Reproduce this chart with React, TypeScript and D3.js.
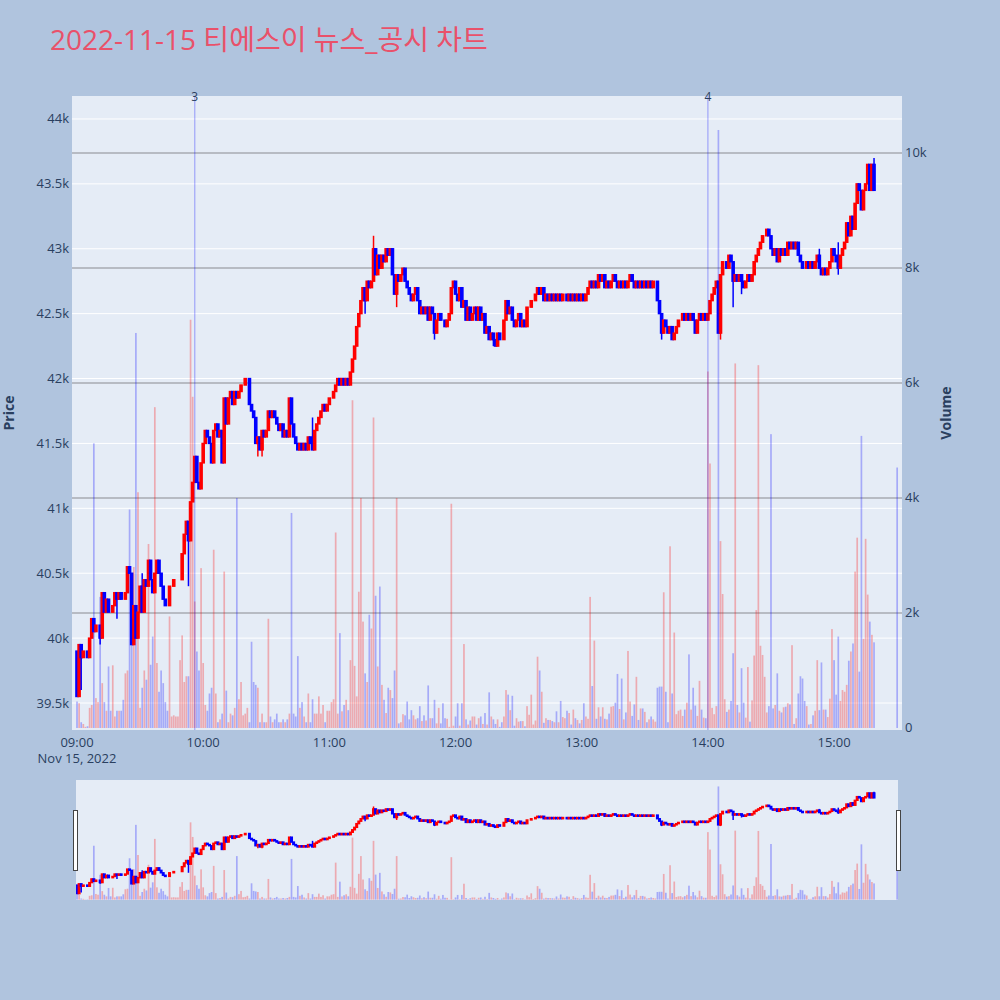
import React from "react";
import * as d3 from "d3";

const TITLE = "2022-11-15 티에스이 뉴스_공시 차트";
const DATE_LABEL = "Nov 15, 2022";
const FIRST_OPEN = 39900;
// 1-minute closes from 09:00 (index = minutes after 09:00)
const CLOSES = [
  39550, 39950, 39850, 39900, 39900, 39850, 40000, 40150, 40050, 40100,
  40100, 40000, 40350, 40200, 40300, 40200, 40200, 40250, 40350, 40300,
  40350, 40300, 40300, 40350, 40550, 40500, 39950, 40250, 40000, 40200,
  40400, 40200, 40450, 40400, 40600, 40450, 40350, 40500, 40600, 40500,
  40400, 40300, 40250, 40250, 40400, 40400, 40450, 40450, 40450, 40450,
  40650, 40800, 40900, 40750, 41050, 41200, 41400, 41200, 41150, 41350,
  41500, 41600, 41550, 41500, 41350, 41600, 41650, 41550, 41600, 41350,
  41850, 41650, 41850, 41900, 41800, 41900, 41850, 41900, 41950, 41950,
  42000, 42000, 41800, 41750, 41700, 41500, 41550, 41450, 41600, 41550,
  41600, 41750, 41700, 41750, 41700, 41650, 41600, 41650, 41550, 41600,
  41550, 41850, 41650, 41550, 41500, 41450, 41500, 41450, 41500, 41450,
  41550, 41500, 41450, 41600, 41650, 41700, 41750, 41800, 41750, 41800,
  41850, 41850, 41900, 41950, 42000, 41950, 42000, 41950, 42000, 41950,
  42050, 42150, 42250, 42400, 42500, 42600, 42700, 42600, 42750, 42700,
  42750, 43000, 42800, 42950, 42850, 42950, 42900, 43000, 42950, 43000,
  42800, 42650, 42800, 42750, 42800, 42850, 42750, 42700, 42650, 42600,
  42650, 42700, 42600, 42500, 42550, 42500, 42550, 42450, 42550, 42500,
  42350, 42450, 42500, 42450, 42450, 42400, 42450, 42500, 42700, 42750,
  42650, 42600, 42700, 42550, 42600, 42450, 42550, 42450, 42500, 42550,
  42450, 42550, 42450, 42500, 42350, 42400, 42300, 42350, 42300, 42250,
  42350, 42300, 42300, 42450, 42600, 42500, 42550, 42450, 42400, 42450,
  42500, 42400, 42450, 42400, 42550, 42550, 42600, 42600, 42650, 42700,
  42650, 42700, 42600, 42650, 42600, 42650, 42600, 42650, 42600, 42650,
  42600, 42650, 42650, 42600, 42650, 42600, 42650, 42600, 42650, 42600,
  42650, 42600, 42650, 42700, 42750, 42700, 42750, 42700, 42800, 42750,
  42800, 42700, 42750, 42700, 42750, 42800, 42750, 42700, 42750, 42700,
  42750, 42700, 42750, 42800, 42750, 42700, 42750, 42700, 42750, 42700,
  42750, 42700, 42750, 42700, 42750, 42750, 42600, 42500, 42350, 42450,
  42400, 42350, 42400, 42300, 42350, 42400, 42450, 42450, 42500, 42450,
  42500, 42450, 42500, 42450, 42350, 42450, 42500, 42450, 42500, 42450,
  42500, 42600, 42650, 42700, 42750, 42350, 42800, 42900, 42900, 42850,
  42950, 42900, 42750, 42800, 42750, 42800, 42750, 42700, 42750, 42800,
  42750, 42800, 42900, 42950, 43000, 43050, 43100, 43100, 43150, 43100,
  43000, 42950, 43000, 42900, 43000, 42950, 43000, 42950, 43050, 43000,
  43050, 43000, 43050, 42950, 42900, 42850, 42850, 42900, 42850, 42900,
  42850, 42900, 42950, 42850, 42800, 42850, 42800, 42850, 42900, 43000,
  42950, 42900, 42850, 42950, 43000, 43050, 43200, 43100, 43250, 43150,
  43350, 43500, 43450, 43300, 43450, 43500, 43650, 43450, 43650, 43450,
];
// 1-minute volumes, thousands of shares
const VOLUME_K = [
  0.46, 0.43, 0.10, 0.07, 0.02, 0.03, 0.35, 0.40, 4.95, 0.52,
  0.45, 2.28, 0.78, 0.45, 0.30, 1.07, 0.30, 1.09, 0.20, 0.30,
  0.30, 0.30, 0.49, 0.95, 1.00, 3.80, 1.90, 2.80, 6.87, 4.10,
  0.35, 0.70, 1.00, 0.84, 3.20, 1.10, 1.59, 5.58, 1.13, 0.63,
  1.00, 0.78, 0.45, 0.30, 1.94, 0.20, 0.22, 0.20, 0.20, 1.18,
  1.61, 0.80, 0.90, 0.90, 7.10, 5.76, 2.20, 1.33, 1.00, 2.78,
  1.13, 0.40, 0.30, 0.60, 0.70, 3.10, 0.60, 0.10, 0.15, 0.25,
  2.72, 0.65, 0.10, 0.25, 0.22, 0.35, 4.00, 0.50, 0.80, 0.22,
  0.25, 0.35, 0.10, 1.50, 0.80, 0.75, 0.70, 0.10, 0.25, 0.10,
  0.10, 1.90, 0.20, 0.10, 0.15, 0.25, 0.10, 0.10, 0.15, 0.10,
  0.15, 0.25, 3.74, 0.25, 0.20, 1.25, 0.35, 0.45, 0.20, 0.10,
  0.60, 0.10, 0.50, 0.25, 0.25, 0.55, 0.25, 0.40, 0.10, 0.30,
  0.30, 0.45, 0.50, 3.40, 0.25, 1.65, 0.29, 0.40, 0.49, 0.31,
  1.18, 5.70, 1.08, 0.55, 2.37, 4.00, 1.85, 0.95, 0.80, 1.97,
  1.73, 5.40, 2.30, 1.07, 2.46, 0.75, 0.49, 0.26, 0.70, 0.66,
  0.52, 1.00, 4.00, 0.08, 0.10, 0.24, 0.22, 0.46, 0.15, 0.31,
  0.22, 0.15, 0.17, 0.38, 0.12, 0.22, 0.13, 0.74, 0.17, 0.17,
  0.49, 0.08, 0.35, 0.08, 0.43, 0.17, 0.16, 0.02, 3.90, 0.04,
  0.20, 0.43, 0.04, 0.43, 1.46, 0.15, 0.06, 0.13, 0.20, 0.20,
  0.06, 0.17, 0.20, 0.07, 0.26, 0.06, 0.62, 0.20, 0.15, 0.07,
  0.15, 0.02, 0.10, 0.20, 0.66, 0.58, 0.31, 0.56, 0.04, 0.17,
  0.11, 0.12, 0.12, 0.03, 0.38, 0.23, 0.58, 0.06, 0.13, 1.24,
  1.00, 0.63, 0.09, 0.17, 0.14, 0.14, 0.12, 0.10, 0.29, 0.10,
  0.47, 0.19, 0.17, 0.30, 0.26, 0.06, 0.32, 0.17, 0.14, 0.08,
  0.14, 0.43, 0.20, 0.16, 2.28, 0.73, 1.52, 0.16, 0.36, 0.20,
  0.36, 0.16, 0.15, 0.25, 0.37, 0.38, 0.44, 0.94, 0.33, 0.86,
  0.15, 0.27, 1.34, 0.46, 0.21, 0.41, 0.89, 0.14, 0.34, 0.34,
  0.28, 0.10, 0.15, 0.20, 0.15, 0.11, 0.70, 0.72, 0.72, 2.36,
  0.63, 0.10, 3.16, 0.60, 1.66, 0.24, 0.30, 0.32, 0.21, 0.32,
  0.44, 1.28, 0.32, 0.70, 0.39, 0.21, 0.82, 0.32, 0.18, 0.17,
  6.20, 4.60, 0.35, 0.24, 0.38, 10.40, 3.25, 2.33, 0.50, 0.28,
  0.32, 0.47, 1.30, 6.34, 0.40, 0.27, 1.04, 0.44, 0.18, 1.06,
  0.11, 0.48, 1.26, 2.05, 6.31, 1.43, 1.27, 0.89, 0.27, 0.38,
  5.11, 0.34, 0.40, 0.95, 0.30, 0.27, 0.36, 0.37, 0.43, 0.41,
  1.44, 0.07, 0.17, 0.60, 0.90, 0.86, 0.47, 0.38, 0.06, 0.07,
  0.22, 0.30, 1.18, 0.31, 1.14, 0.32, 0.32, 0.19, 0.51, 1.72,
  1.18, 0.58, 1.59, 0.47, 0.66, 0.63, 0.75, 1.17, 1.33, 1.47,
  2.72, 3.31, 0.98, 5.08, 1.55, 3.29, 2.32, 1.85, 1.62, 1.49,
];
// sparse wicks: [minute, high, low]
const WICKS: [number, number | null, number | null][] = [
  [2, null, 39600], [11, null, 39950], [19, null, 40150], [31, 40500, null],
  [53, null, 40400], [86, null, 41400], [88, null, 41400], [112, 41700, null],
  [137, null, 42500], [141, 43100, null], [152, null, 42550], [170, null, 42300],
  [198, null, 42250], [278, null, 42300], [306, null, 42300], [312, null, 42550],
  [316, null, 42650], [353, 43000, null], [362, 43050, 42800], [379, 43700, null],
];
// closing auction 15:30
const CLOSING_MINUTE = 390;
const CLOSING_PRICE = 43450;
const CLOSING_VOLUME_K = 4.53;
// news / disclosure markers
const EVENT_MINUTES = [56, 300];
const EVENT_LABELS = ["3", "4"];

const PRICE_TICKS = [39500, 40000, 40500, 41000, 41500, 42000, 42500, 43000, 43500, 44000];
const VOLUME_TICKS = [0, 2000, 4000, 6000, 8000, 10000];
const TIME_TICK_MINUTES = [0, 60, 120, 180, 240, 300, 360];
const TIME_TICK_LABELS = ["09:00", "10:00", "11:00", "12:00", "13:00", "14:00", "15:00"];

const UP = "#ff0000";
const DOWN = "#0000ff";
const FONT = "'Open Sans', 'Noto Sans CJK KR', sans-serif";
const TEXT = "#2a3f5f";

type Candle = { m: number; o: number; h: number; l: number; c: number; v: number; dir: number };

function buildCandles(): Candle[] {
  const wick = new Map<number, [number | null, number | null]>();
  WICKS.forEach(([m, h, l]) => wick.set(m, [h, l]));
  let prevDir = -1;
  const out: Candle[] = CLOSES.map((c, i) => {
    const o = i === 0 ? FIRST_OPEN : CLOSES[i - 1];
    const dir = c > o ? 1 : c < o ? -1 : prevDir;
    prevDir = dir;
    const w = wick.get(i);
    const h = Math.max(o, c, w && w[0] != null ? w[0] : -Infinity);
    const l = Math.min(o, c, w && w[1] != null ? w[1] : Infinity);
    return { m: i, o, h, l, c, v: VOLUME_K[i] * 1000, dir };
  });
  out.push({ m: CLOSING_MINUTE, o: CLOSING_PRICE, h: CLOSING_PRICE, l: CLOSING_PRICE, c: CLOSING_PRICE, v: CLOSING_VOLUME_K * 1000, dir: prevDir });
  return out;
}

function Series({ candles, x, y, y2, clip, bw }: { candles: Candle[]; x: any; y: any; y2: any; clip: string; bw: number }) {
  return (
    <g clipPath={`url(#${clip})`}>
      {candles.map((d) => {
        const col = d.dir > 0 ? UP : DOWN;
        const cx = x(d.m);
        const top = y(Math.max(d.o, d.c));
        const bot = y(Math.min(d.o, d.c));
        return (
          <g key={"c" + d.m}>
            <line x1={cx} x2={cx} y1={y(d.h)} y2={y(d.l)} stroke={col} strokeWidth={1.5} />
            <rect x={cx - bw / 2} y={top} width={bw} height={Math.max(0, bot - top)} fill={col} stroke={col} strokeWidth={1.4} />
          </g>
        );
      })}
      {candles.map((d) => {
        const col = d.dir > 0 ? UP : DOWN;
        const cx = x(d.m);
        return (
          <rect key={"v" + d.m} x={cx - 0.85} width={1.7} y={y2(d.v)} height={Math.max(0, y2(0) - y2(d.v))} fill={col} fillOpacity={0.28} />
        );
      })}
    </g>
  );
}

export default function App() {
  const L = 72, R = 902, T = 96, B = 730;
  const x = d3.scaleLinear().domain([-2.38, 392.3]).range([L, R]);
  const y = d3.scaleLinear().domain([39292, 44177]).range([B, T]);
  const y2 = d3.scaleLinear().domain([-35, 10991]).range([B, T]);
  const SL = 76, SR = 898, ST = 780, SB = 900;
  const ys = d3.scaleLinear().domain(y.domain()).range([SB, ST]);
  const y2s = d3.scaleLinear().domain(y2.domain()).range([SB, ST]);
  const candles = buildCandles();
  const fmtK = (v: number) => (v === 0 ? "0" : d3.format("~")(v / 1000) + "k");

  return (
    <svg width={1000} height={1000} style={{ position: "absolute", left: 0, top: 0 }} fontFamily={FONT}>
      <defs>
        <clipPath id="mainClip"><rect x={L} y={T} width={R - L} height={B - T} /></clipPath>
        <clipPath id="sliderClip"><rect x={SL} y={ST} width={SR - SL} height={SB - ST} /></clipPath>
      </defs>
      <rect x={0} y={0} width={1000} height={1000} fill="#b0c4de" />
      <text x={50} y={50} fontSize={28} fill="#e9516a">{TITLE}</text>

      <rect x={L} y={T} width={R - L} height={B - T} fill="#e5ecf6" />
      {PRICE_TICKS.map((p) => (
        <line key={"pg" + p} x1={L} x2={R} y1={y(p)} y2={y(p)} stroke="#ffffff" strokeWidth={1} />
      ))}
      {VOLUME_TICKS.filter((v) => v > 0).map((v) => (
        <line key={"vg" + v} x1={L} x2={R} y1={y2(v)} y2={y2(v)} stroke="#8a8a8f" strokeWidth={1.2} />
      ))}

      <Series candles={candles} x={x} y={y} y2={y2} clip="mainClip" bw={2.2} />

      {EVENT_MINUTES.map((m, i) => (
        <g key={"ev" + i}>
          <line x1={x(m)} x2={x(m)} y1={T} y2={B} stroke="rgb(0,0,255)" strokeOpacity={0.3} strokeWidth={1.2} />
          <text x={x(m)} y={101} fontSize={12} textAnchor="middle" fill={TEXT}>{EVENT_LABELS[i]}</text>
        </g>
      ))}

      {PRICE_TICKS.map((p) => (
        <text key={"pt" + p} x={69} y={y(p) + 4.5} fontSize={13} textAnchor="end" fill={TEXT}>{fmtK(p)}</text>
      ))}
      {VOLUME_TICKS.map((v) => (
        <text key={"vt" + v} x={905} y={y2(v) + 4.5} fontSize={13} textAnchor="start" fill={TEXT}>{fmtK(v)}</text>
      ))}
      {TIME_TICK_MINUTES.map((m, i) => (
        <text key={"xt" + m} x={x(m)} y={747} fontSize={13} textAnchor="middle" fill={TEXT}>{TIME_TICK_LABELS[i]}</text>
      ))}
      <text x={x(0)} y={763} fontSize={13} textAnchor="middle" fill={TEXT}>{DATE_LABEL}</text>

      <text transform={`translate(14,${(T + B) / 2}) rotate(-90)`} fontSize={14} fontWeight="bold" textAnchor="middle" fill={TEXT}>Price</text>
      <text transform={`translate(951,${(T + B) / 2}) rotate(-90)`} fontSize={14} fontWeight="bold" textAnchor="middle" fill={TEXT}>Volume</text>

      <rect x={SL} y={ST} width={SR - SL} height={SB - ST} fill="#e5ecf6" />
      <Series candles={candles} x={x} y={ys} y2={y2s} clip="sliderClip" bw={1.6} />
      <rect x={73.5} y={810.5} width={4} height={60} fill="#ffffff" stroke="#444" strokeWidth={1} />
      <rect x={896.5} y={810.5} width={4} height={60} fill="#ffffff" stroke="#444" strokeWidth={1} />
    </svg>
  );
}
